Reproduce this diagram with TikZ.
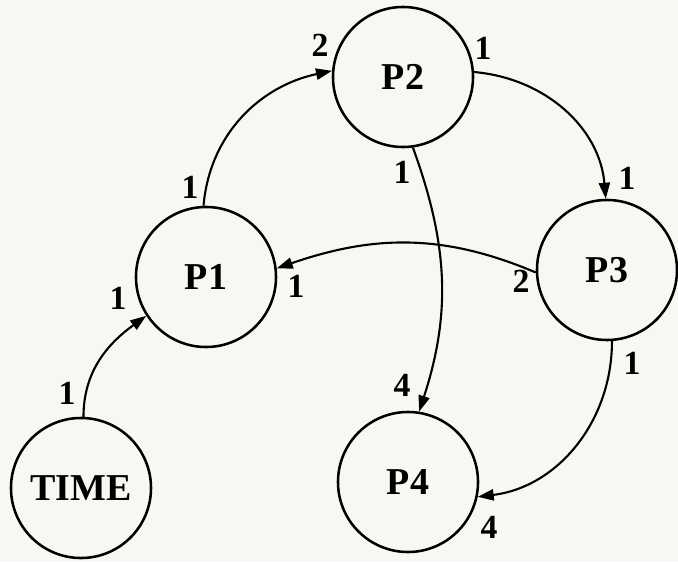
\documentclass[tikz,border=0pt]{standalone}
\usepackage{fontspec}
\setmainfont{Liberation Serif}
\usetikzlibrary{positioning,arrows.meta}
\definecolor{paperColor}{RGB}{248,248,243}
\tikzset{
    procnode/.style={
        circle,
        draw,
        line width=1.8pt,
        minimum size=3.5cm,
        inner sep=0pt,
        font=\fontsize{27}{30}\selectfont\bfseries
    },
    ptr/.style={
        -{Triangle[length=4mm,width=2.8mm]},
        line width=1.5pt
    },
    portnum/.style={
        font=\fontsize{24}{26}\selectfont\bfseries,
        inner sep=0pt
    }
}

\begin{document}
\begin{tikzpicture}[x=0.025cm, y=0.025cm]
        \fill[paperColor] (0,0) rectangle (678,562);
        \useasboundingbox (0,0) rectangle (678,562);

        \node[procnode] (time) at (81,74) {TIME};
        \node[procnode] (p1) at (206,285) {P1};
        \node[procnode] (p2) at (403,485) {P2};
        \node[procnode] (p3) at (607,292) {P3};
        \node[procnode] (p4) at (408,80) {P4};

        \draw[ptr] (time.88) to[out=90, in=216] (p1.213);
        \draw[ptr] (p1.92) to[out=85, in=192] (p2.175);
        \draw[ptr] (p2.4) to[out=-5, in=95] (p3.91);
        \draw[ptr] (p2.-82) to[out=-70, in=72] (p4.81);
        \draw[ptr] (p3.182) to[out=157, in=19] (p1.7);
        \draw[ptr] (p3.-86) to[out=-90, in=7] (p4.-12);

        % port numbers
        \node[portnum] (tOut) at (67,169) {1};
        \node[portnum] (p1InT) at (118,264) {1};
        \node[portnum] (p1Out) at (190,375) {1};
        \node[portnum] (p2In) at (320,517) {2};
        \node[portnum] (p2OutA) at (483,514) {1};
        \node[portnum] (p3InA) at (627,384) {1};
        \node[portnum] (p2OutB) at (402,390) {1};
        \node[portnum] (p4InA) at (402,177) {4};
        \node[portnum] (p3OutA) at (521,281) {2};
        \node[portnum] (p1InB) at (296,276) {1};
        \node[portnum] (p3OutB) at (632,199) {1};
        \node[portnum] (p4InB) at (489,35) {4};
    \end{tikzpicture}
\end{document}
